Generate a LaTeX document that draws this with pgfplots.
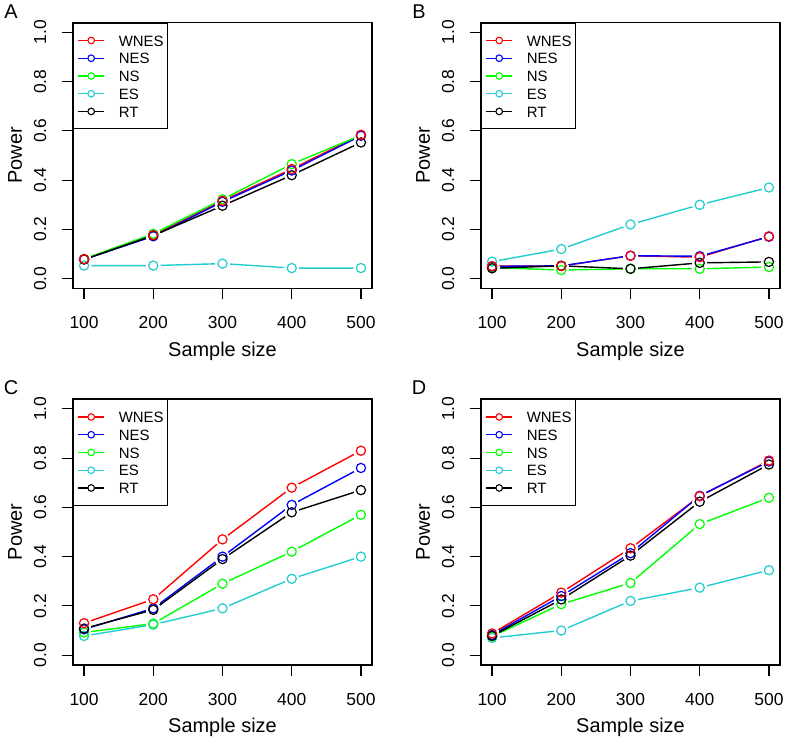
\documentclass[border=0pt]{standalone}
\usepackage{pgfplots}
\pgfplotsset{compat=1.18}
\usepackage{pgfplotstable}
\usepackage{fontspec}
\setmainfont{Liberation Sans}

\definecolor{cWNES}{HTML}{FF0000}
\definecolor{cNES}{HTML}{0000FF}
\definecolor{cNS}{HTML}{00FF00}
\definecolor{cES}{HTML}{22CCD0}
\definecolor{cRT}{HTML}{000000}

% power by sample size, one table per panel
\pgfplotstableread{
n   wnes  nes   ns    es    rt
100 0.079 0.078 0.080 0.053 0.078
200 0.177 0.172 0.182 0.053 0.175
300 0.316 0.312 0.322 0.061 0.296
400 0.445 0.439 0.465 0.043 0.420
500 0.584 0.580 0.582 0.043 0.553
}\tabA
\pgfplotstableread{
n   wnes  nes   ns    es    rt
100 0.051 0.050 0.045 0.069 0.042
200 0.051 0.052 0.035 0.120 0.052
300 0.093 0.093 0.040 0.220 0.040
400 0.087 0.091 0.040 0.300 0.064
500 0.172 0.170 0.047 0.370 0.068
}\tabB
\pgfplotstableread{
n   wnes  nes   ns    es    rt
100 0.130 0.105 0.092 0.078 0.108
200 0.227 0.190 0.128 0.124 0.184
300 0.470 0.400 0.290 0.190 0.390
400 0.680 0.610 0.420 0.310 0.580
500 0.830 0.760 0.570 0.400 0.670
}\tabC
\pgfplotstableread{
n   wnes  nes   ns    es    rt
100 0.088 0.082 0.076 0.070 0.078
200 0.254 0.240 0.207 0.100 0.226
300 0.434 0.414 0.293 0.220 0.404
400 0.645 0.647 0.532 0.274 0.623
500 0.790 0.786 0.639 0.345 0.774
}\tabD

\pgfplotsset{
  panel/.style={
    scale only axis, width=299bp, height=266bp,
    xmin=84, xmax=516, ymin=-0.04, ymax=1.04,
    xtick={100,200,300,400,500}, ytick={0,0.2,...,1.0},
    xtick pos=left, ytick pos=left, tick align=outside,
    major tick length=11bp,
    every tick/.style={black, line width=1.2bp},
    axis line style={line width=1.2bp},
    font=\fontsize{17.5}{20}\selectfont,
    /pgf/number format/assume math mode=true,
    yticklabel style={/pgf/number format/fixed, /pgf/number format/fixed zerofill,
      /pgf/number format/precision=1},
    yticklabel style={inner sep=0pt, anchor=center, xshift=-22bp, rotate=90},
    xticklabel style={inner sep=0pt, anchor=base, yshift=-29bp},
    xlabel={Sample size}, ylabel={Power},
    label style={font=\fontsize{20}{24}\selectfont},
    x label style={at={(axis description cs:0.5,-0.254)}, anchor=base, inner sep=0pt},
    y label style={at={(axis description cs:-0.171,0.5)}, anchor=base, rotate=0, inner sep=0pt},
    legend style={at={(0,1)}, anchor=north west, draw=black, line width=1.2bp,
      inner xsep=4bp, inner ysep=8.5bp, row sep=0pt, column sep=14bp,
      font=\fontsize{15}{18}\selectfont,
      nodes={inner sep=0pt, text height=14.5bp, text depth=3.25bp}},
    legend cell align=left,
    legend image code/.code={
      \draw[##1, line width=1.2bp] (0bp,0bp) -- (26bp,0bp);
      \draw[##1, line width=1.1bp, fill=white] (13bp,0bp) circle[radius=3.3bp];},
    clip=false,
  },
  ln/.style={line width=1.4bp, no marks},
  gap/.style={forget plot, only marks, white, mark=*, mark size=7bp,
    mark options={draw=white, fill=white, line width=0pt}},
  ring/.style={forget plot, only marks, mark=o, mark size=4.6bp,
    mark options={line width=1.2bp}},
}

\newcommand{\series}[1]{%
  \addplot[ln, cWNES] table[x=n, y=wnes] {#1};
  \addplot[ln, cNES]  table[x=n, y=nes]  {#1};
  \addplot[ln, cNS]   table[x=n, y=ns]   {#1};
  \addplot[ln, cES]   table[x=n, y=es]   {#1};
  \addplot[ln, cRT]   table[x=n, y=rt]   {#1};
  \legend{WNES,NES,NS,ES,RT}
  \addplot[gap] table[x=n, y=wnes] {#1};
  \addplot[gap] table[x=n, y=nes]  {#1};
  \addplot[gap] table[x=n, y=ns]   {#1};
  \addplot[gap] table[x=n, y=es]   {#1};
  \addplot[gap] table[x=n, y=rt]   {#1};
  \addplot[ring, cES]   table[x=n, y=es]   {#1};
  \addplot[ring, cNS]   table[x=n, y=ns]   {#1};
  \addplot[ring, cNES]  table[x=n, y=nes]  {#1};
  \addplot[ring, cRT]   table[x=n, y=rt]   {#1};
  \addplot[ring, cWNES] table[x=n, y=wnes] {#1};
}
\newcommand{\paneltag}[1]{\node[font=\fontsize{20}{24}\selectfont, inner sep=0pt]
  at (axis description cs:-0.207,1.041) {#1};}

\begin{document}
\begin{tikzpicture}
\path[use as bounding box] (0,0) rectangle (787bp,739bp);

\begin{axis}[panel, at={(73bp,450.5bp)}, anchor=south west]
  \series{\tabA}
  \paneltag{A}
\end{axis}

\begin{axis}[panel, at={(481bp,450.5bp)}, anchor=south west]
  \series{\tabB}
  \paneltag{B}
\end{axis}

\begin{axis}[panel, at={(73bp,74bp)}, anchor=south west]
  \series{\tabC}
  \paneltag{C}
\end{axis}

\begin{axis}[panel, at={(481bp,74bp)}, anchor=south west]
  \series{\tabD}
  \paneltag{D}
\end{axis}
\end{tikzpicture}
\end{document}
